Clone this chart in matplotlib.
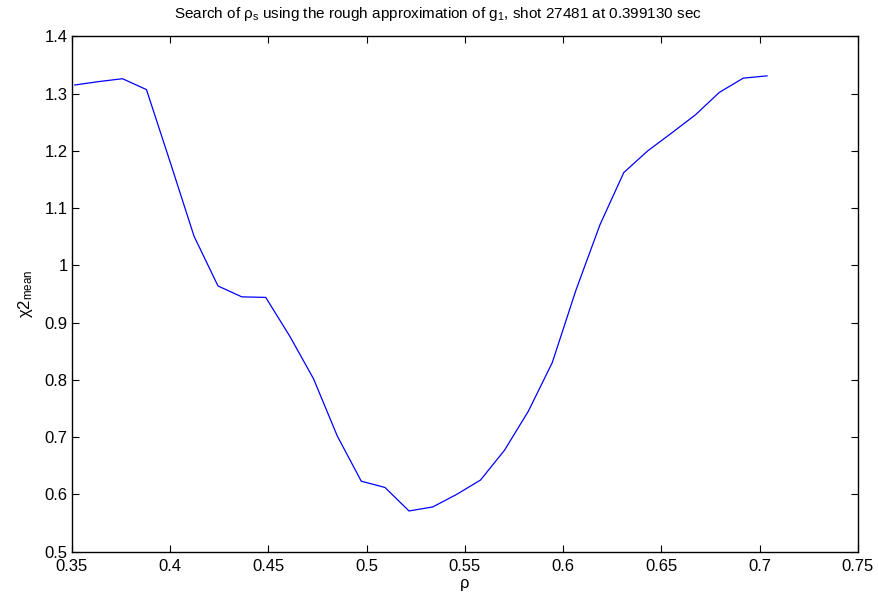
import numpy as np
import matplotlib.pyplot as plt
from matplotlib.ticker import FormatStrFormatter

plt.rcParams['font.family'] = ['Liberation Sans', 'DejaVu Sans']
plt.rcParams['mathtext.fontset'] = 'custom'
plt.rcParams['mathtext.rm'] = 'Liberation Sans'
plt.rcParams['mathtext.it'] = 'Liberation Sans:italic'
plt.rcParams['mathtext.default'] = 'regular'

# rho grid and mean chi2 values
rho = [0.3514, 0.3636, 0.3757, 0.3879, 0.4000, 0.4121, 0.4243, 0.4364,
       0.4486, 0.4607, 0.4729, 0.4850, 0.4972, 0.5093, 0.5215, 0.5336,
       0.5458, 0.5579, 0.5701, 0.5822, 0.5944, 0.6065, 0.6187, 0.6308,
       0.6430, 0.6551, 0.6673, 0.6794, 0.6916, 0.7037]
chi2_mean = [1.315, 1.321, 1.326, 1.307, 1.180, 1.051, 0.964, 0.945,
             0.944, 0.877, 0.802, 0.702, 0.623, 0.612, 0.571, 0.578,
             0.600, 0.625, 0.677, 0.745, 0.830, 0.957, 1.071, 1.162,
             1.200, 1.231, 1.263, 1.302, 1.327, 1.331]

fig = plt.figure(figsize=(8.79, 5.96), dpi=100)
ax = fig.add_axes([0.0819, 0.0745, 0.8942, 0.8645])

ax.plot(rho, chi2_mean, color='blue', lw=0.9)

ax.set_xlim(0.35, 0.75)
ax.set_ylim(0.5, 1.4)
ax.set_xticks(np.arange(0.35, 0.751, 0.05))
ax.set_yticks(np.arange(0.5, 1.401, 0.1))
ax.xaxis.set_major_formatter(FormatStrFormatter('%g'))
ax.yaxis.set_major_formatter(FormatStrFormatter('%g'))
ax.tick_params(direction='in', top=True, right=True, labelsize=12, length=5)
ax.tick_params(axis='x', pad=5.5)
ax.tick_params(axis='y', pad=3)
for s in ax.spines.values():
    s.set_linewidth(1.0)

ax.set_xlabel('ρ', fontsize=12, labelpad=1)
ax.set_ylabel('χ2$_{mean}$', fontsize=12, labelpad=7)
fig.text(438 / 879, 0.977,
         'Search of ρ$_{s}$ using the rough approximation of g$_{1}$, shot 27481 at 0.399130 sec',
         fontsize=11, ha='center', va='center')

fig.savefig('out.png', dpi=100)
